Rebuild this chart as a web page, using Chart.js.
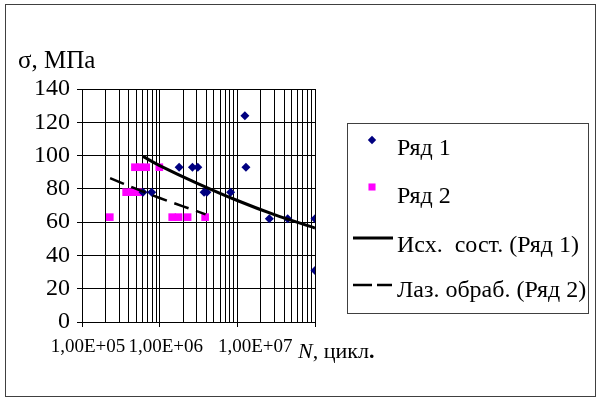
<!DOCTYPE html>
<html>
<head>
<meta charset="utf-8">
<script src="https://cdn.jsdelivr.net/npm/chart.js@4.4.1/dist/chart.umd.min.js"></script>
<style>
  html, body { margin: 0; padding: 0; background: #fff; }
  #wrap { width: 598px; height: 399px; position: relative; }
</style>
</head>
<body>
<div id="wrap"><canvas id="myChart"></canvas></div>
<script>
// Ряд 1 - initial state (diamonds)
const series1N = [6.1e5, 7.9e5, 1.78e6, 2.64e6, 3.1e6, 3.73e6, 4.05e6, 8.2e6, 1.25e7, 1.29e7, 2.58e7, 4.45e7, 1e8, 1e8];
const series1S = [78, 78, 93, 93, 93, 78, 78, 78, 124, 93, 62, 62, 62, 31];

// Ряд 2 - laser treated (squares)
const series2N = [2.28e5, 3.7e5, 4.4e5, 5.3e5, 4.8e5, 5.6e5, 6.7e5, 9.9e5, 1.45e6, 1.75e6, 2.29e6, 3.85e6];
const series2S = [63, 78, 78, 78, 93, 93, 93, 93, 63, 63, 63, 63];

// trend lines
const trend1N = [6.1e5, 1e6, 3e6, 1e7, 3e7, 1e8];
const trend1S = [99.5, 94, 83.5, 73, 64.5, 56.5];
const trend2N = [2.3e5, 5e5, 1e6, 2e6, 3.9e6];
const trend2S = [86.4, 80, 74.5, 69.5, 64.7];

const xDecades = [1e5, 1e6, 1e7, 1e8];
const xTickLabels = ['1,00E+05', '1,00E+06', '1,00E+07'];
const yTicks = [0, 20, 40, 60, 80, 100, 120, 140];
const legendLabels = ['Ряд 1', 'Ряд 2', 'Исх.  сост. (Ряд 1)', 'Лаз. обраб. (Ряд 2)'];

const toXY = (xs, ys) => xs.map((x, i) => ({ x: x, y: ys[i] }));

// vertical grid lines at 1..9 of every decade
const xGrid = [];
xDecades.slice(0, -1).forEach(d => { for (let k = 1; k < 10; k++) xGrid.push(k * d); });
xGrid.push(xDecades[xDecades.length - 1]);

const serif = '"Liberation Serif"';
Chart.defaults.font.family = serif;
Chart.defaults.color = '#000';

const decorPlugin = {
  id: 'decor',
  afterDraw(chart) {
    const ctx = chart.ctx;
    ctx.save();
    // outer frame
    ctx.strokeStyle = '#404040';
    ctx.lineWidth = 1;
    ctx.strokeRect(5.5, 4.5, 590, 392);

    // axis titles
    ctx.fillStyle = '#000';
    ctx.textBaseline = 'alphabetic';
    ctx.textAlign = 'left';
    ctx.font = '25px ' + serif;
    ctx.fillText('σ, МПа', 18, 68);
    ctx.font = 'italic 22px ' + serif;
    ctx.fillText('N', 298, 358);
    let w = ctx.measureText('N').width;
    ctx.font = '22px ' + serif;
    ctx.fillText(', цикл', 298 + w, 358);
    w += ctx.measureText(', цикл').width;
    ctx.font = 'bold 22px ' + serif;
    ctx.fillText('.', 298 + w, 358);

    // legend
    ctx.strokeStyle = '#404040';
    ctx.lineWidth = 1;
    ctx.strokeRect(347.5, 123.5, 241, 190);
    ctx.fillStyle = '#000080';
    Chart.helpers.drawPoint(ctx, { pointStyle: 'rectRot', radius: 4.2, rotation: 0, borderWidth: 0 }, 372, 140);
    ctx.fillStyle = '#FF00FF';
    Chart.helpers.drawPoint(ctx, { pointStyle: 'rect', radius: 5, rotation: 0, borderWidth: 0 }, 372, 187);
    ctx.strokeStyle = '#000';
    ctx.lineWidth = 3;
    ctx.beginPath(); ctx.moveTo(353, 238); ctx.lineTo(393, 238); ctx.stroke();
    ctx.lineWidth = 2.5;
    ctx.beginPath(); ctx.moveTo(353, 285); ctx.lineTo(372, 285); ctx.moveTo(377, 285); ctx.lineTo(392, 285); ctx.stroke();
    ctx.fillStyle = '#000';
    ctx.font = '24px ' + serif;
    ctx.fillText(legendLabels[0], 397, 155);
    ctx.fillText(legendLabels[1], 397, 203);
    ctx.fillText(legendLabels[2], 397, 252);
    ctx.fillText(legendLabels[3], 397, 297);
    ctx.restore();
  }
};

const ctx = document.getElementById('myChart').getContext('2d');
const myChart = new Chart(ctx, {
  type: 'scatter',
  data: {
    datasets: [
      {
        label: legendLabels[2], type: 'line', data: toXY(trend1N, trend1S),
        borderColor: '#000', borderWidth: 3, pointRadius: 0, tension: 0.4, fill: false
      },
      {
        label: legendLabels[3], type: 'line', data: toXY(trend2N, trend2S),
        borderColor: '#000', borderWidth: 2.5, borderDash: [15, 8], pointRadius: 0, tension: 0.4, fill: false
      },
      {
        label: legendLabels[0], data: toXY(series1N, series1S),
        pointStyle: 'rectRot', pointRadius: 4.5, pointBorderWidth: 0,
        backgroundColor: '#000080', borderColor: '#000080'
      },
      {
        label: legendLabels[1], data: toXY(series2N, series2S),
        pointStyle: 'rect', pointRadius: 5.4, pointBorderWidth: 0,
        backgroundColor: '#FF00FF', borderColor: '#FF00FF'
      }
    ]
  },
  options: {
    responsive: true,
    maintainAspectRatio: false,
    animation: false,
    devicePixelRatio: 1,
    layout: { padding: { left: 0, right: 283, top: 89, bottom: 0 } },
    plugins: { legend: { display: false }, tooltip: { enabled: false } },
    scales: {
      x: {
        type: 'logarithmic',
        min: xDecades[0],
        max: xDecades[xDecades.length - 1],
        afterBuildTicks: s => { s.ticks = xGrid.map(v => ({ value: v })); },
        afterFit: s => { s.height = 77; },
        ticks: {
          autoSkip: false, maxRotation: 0, minRotation: 0,
          padding: 9, labelOffset: 6,
          font: { size: 19 }, color: '#000',
          callback: v => {
            const i = xDecades.indexOf(v);
            if (i < 0 || i >= xTickLabels.length) return '';
            // the last label sits a bit further right in the original
            return (i === 2 ? '\u00a0\u00a0\u00a0\u00a0\u00a0' : '') + xTickLabels[i];
          }
        },
        grid: {
          color: '#000', lineWidth: 1, tickLength: 5,
          tickColor: c => (c.tick && xDecades.includes(c.tick.value)) ? '#000' : 'rgba(0,0,0,0)'
        },
        border: { color: '#000', width: 1 }
      },
      y: {
        min: 0,
        max: 140,
        afterBuildTicks: s => { s.ticks = yTicks.map(v => ({ value: v })); },
        afterFit: s => { s.width = 82; },
        ticks: { padding: 7, font: { size: 24 }, color: '#000' },
        grid: { color: '#000', lineWidth: 1, tickLength: 5 },
        border: { color: '#000', width: 1 }
      }
    }
  },
  plugins: [decorPlugin]
});
</script>
</body>
</html>
